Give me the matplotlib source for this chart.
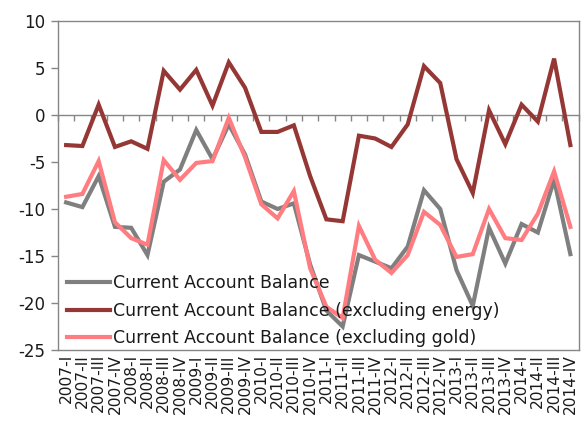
import matplotlib
matplotlib.use("Agg")
import matplotlib.pyplot as plt
import numpy as np

plt.rcParams['font.family'] = ['DejaVu Sans']
plt.rcParams['axes.unicode_minus'] = False

quarters = [f"{y}-{q}" for y in range(2007, 2015) for q in ["I", "II", "III", "IV"]]

cab = [-9.3, -9.8, -6.5, -11.9, -12.0, -14.9, -7.1, -5.8,
       -1.6, -4.7, -1.0, -4.2, -9.2, -10.0, -9.4, -15.9,
       -20.8, -22.5, -14.9, -15.6, -16.3, -14.0, -8.0, -10.0,
       -16.5, -20.3, -12.0, -15.8, -11.6, -12.5, -6.9, -14.8]

cab_ex_energy = [-3.2, -3.3, 1.1, -3.4, -2.8, -3.6, 4.7, 2.7,
                 4.8, 1.0, 5.6, 2.9, -1.8, -1.8, -1.1, -6.5,
                 -11.1, -11.3, -2.2, -2.5, -3.4, -1.0, 5.2, 3.4,
                 -4.7, -8.3, 0.5, -3.1, 1.1, -0.7, 6.0, -3.2]

cab_ex_gold = [-8.7, -8.4, -4.9, -11.4, -13.1, -13.8, -4.8, -6.9,
               -5.1, -4.9, -0.3, -4.5, -9.5, -11.0, -8.1, -16.3,
               -20.4, -21.6, -11.8, -15.4, -16.8, -14.9, -10.3, -11.7,
               -15.1, -14.8, -10.0, -13.1, -13.3, -10.5, -6.0, -11.9]

labels = ["Current Account Balance",
          "Current Account Balance (excluding energy)",
          "Current Account Balance (excluding gold)"]
colors = ["#7f7f7f", "#953735", "#ff7c80"]

fig = plt.figure(figsize=(5.87, 4.21), dpi=100)
ax = fig.add_axes([58/587, 1-350/421, (578.5-58)/587, (350-21)/421])

x = np.arange(len(quarters))
for series, lab, col in zip([cab, cab_ex_energy, cab_ex_gold], labels, colors):
    ax.plot(x, series, color=col, lw=3.0, label=lab, solid_joinstyle='miter')

ax.set_xlim(-0.5, len(quarters) - 0.5)
ax.set_ylim(-25, 10)
ax.set_yticks(np.arange(-25, 11, 5))
ax.set_xticks(x)
ax.set_xticklabels(quarters, rotation=90, fontsize=11.2, color="#1a1a1a")
ax.tick_params(axis='x', length=0, pad=3)
ax.tick_params(axis='y', length=5, width=1, color="#868686", labelsize=12,
               labelcolor="#1a1a1a", pad=4)
for sp in ax.spines.values():
    sp.set_color("#868686")
    sp.set_linewidth(1.0)

# zero axis with boundary ticks
sec = ax.secondary_xaxis(25/35)
sec.set_xticks(np.arange(-0.5, len(quarters), 1.0))
sec.set_xticklabels([])
sec.tick_params(axis='x', direction='in', length=4, width=1, color="#868686")
for s in sec.spines.values():
    s.set_color("#868686")
    s.set_linewidth(1.0)

leg = ax.legend(loc='lower left', bbox_to_anchor=(0.012, 0.0), frameon=False,
                fontsize=12.5, handlelength=2.5, handletextpad=0.15,
                labelspacing=0.55, borderaxespad=0.0, borderpad=0.15)
for t in leg.get_texts():
    t.set_color("#1a1a1a")
for h in leg.get_lines():
    h.set_linewidth(3.0)

fig.savefig("out.png", dpi=100)
